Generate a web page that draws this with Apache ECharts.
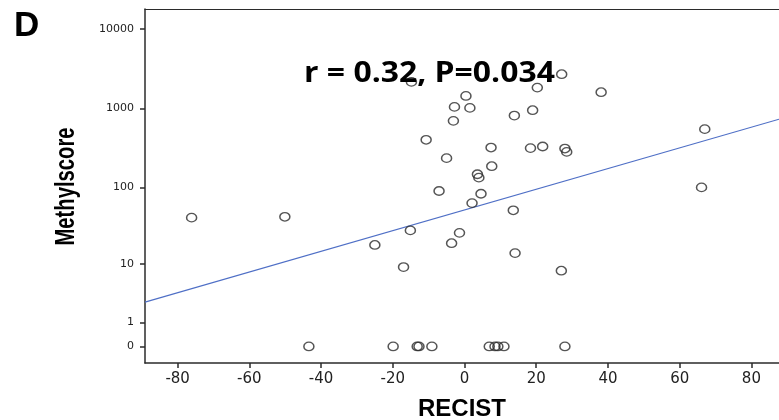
<!DOCTYPE html>
<html>
<head>
<meta charset="utf-8">
<script src="https://cdn.jsdelivr.net/npm/echarts@6/dist/echarts.min.js"></script>
<style>html,body{margin:0;padding:0;background:#fff}#c{width:779px;height:420px}</style>
</head>
<body>
<div id="c"></div>
<script>
// RECIST (%) and Methylscore for each patient
const recist = [
  -43.4, -19.9, -13.2, -12.7, -9.1, 6.9, 8.5, 9.3, 11.0, 28.0,
  -76.1, -50.1, -15.1, -25.0, -3.6, -1.4, -17.0, 14.1, 27.0, 13.6,
  2.1, 4.6, -7.1, 66.1, 3.6, 4.0, 7.6, -5.0, 7.4, 18.4,
  21.8, 28.0, 28.5, -10.7, 67.0, -3.1, 13.9, 19.0, -2.8, 1.5,
  0.4, 38.1, 20.3, -14.8, 27.1
];
const methylscore = [
  0, 0, 0, 0, 0, 0, 0, 0, 0, 0,
  41, 42, 28, 18, 19, 26, 9, 14, 8, 51,
  63, 83, 90, 100, 147, 133, 186, 235, 320, 315,
  330, 311, 282, 401, 547, 696, 811, 948, 1044, 1014,
  1436, 1599, 1828, 2157, 2698
];
// fitted line endpoints
const regLineX = [-89.1, 87.7];
const regLineY = [2.62, 730];
const yTickLabels = [0, 1, 10, 100, 1000, 10000];
const xTickLabels = [-80, -60, -40, -20, 0, 20, 40, 60, 80];
const titleText = 'r = 0.32, P=0.034';

const tf = v => Math.log10(v + 1);
const pts = recist.map((x, i) => [x, tf(methylscore[i])]);
const line = regLineX.map((x, i) => [x, tf(regLineY[i])]);
const yTicks = yTickLabels.map(tf);

const chart = echarts.init(document.getElementById('c'), null, {renderer: 'canvas'});
const axisCol = '#2b2b2b';
chart.setOption({
  animation: false,
  backgroundColor: '#fff',
  grid: {left: 145, right: 0, top: 9, bottom: 57},
  xAxis: [{
    type: 'value', min: -89.1, max: 87.7,
    axisLine: {show: true, onZero: false, lineStyle: {color: axisCol, width: 1.5}},
    axisTick: {show: true, customValues: xTickLabels, length: 5, lineStyle: {color: axisCol, width: 1.5}},
    axisLabel: {customValues: xTickLabels, margin: 9, color: '#222', fontFamily: 'DejaVu Sans', fontSize: 15},
    splitLine: {show: false}
  }, {
    type: 'value', position: 'top', min: -89.1, max: 87.7,
    axisLine: {show: true, onZero: false, lineStyle: {color: axisCol, width: 1.2}},
    axisTick: {show: false}, axisLabel: {show: false}, splitLine: {show: false}
  }],
  yAxis: {
    type: 'value', min: -0.209, max: 4.253,
    axisLine: {show: true, onZero: false, lineStyle: {color: axisCol, width: 1.5}},
    axisTick: {show: true, customValues: yTicks, length: 5, lineStyle: {color: axisCol, width: 1.5}},
    axisLabel: {customValues: yTicks, margin: 11, color: '#222', fontFamily: 'DejaVu Sans', fontSize: 11,
      formatter: v => String(Math.round(Math.pow(10, v) - 1))},
    splitLine: {show: false}
  },
  series: [{
    type: 'line', data: line, symbol: 'none', silent: true,
    lineStyle: {color: '#4f6fc6', width: 1.2}, z: 1
  }, {
    type: 'scatter', data: pts, symbol: 'circle', symbolSize: [10, 8.5],
    itemStyle: {color: 'rgba(0,0,0,0)', borderColor: '#2a2a2a', borderWidth: 1.4}, z: 2
  }],
  graphic: [
    {type: 'text', left: 14, top: 9, style: {text: 'D', font: 'bold 35px "Liberation Sans", Arial', fill: '#000'}},
    {type: 'text', x: 429.5, y: 73.5, scaleX: 1.1, style: {text: titleText, font: 'bold 29px "Open Sans"', fill: '#000', align: 'center', verticalAlign: 'middle'}, z: 10},
    {type: 'text', x: 67, y: 186.5, rotation: Math.PI / 2, scaleX: 0.75, style: {text: 'Methylscore', font: 'bold 27px "Liberation Sans", Arial', fill: '#000', align: 'center', verticalAlign: 'middle'}},
    {type: 'text', x: 462, y: 409, style: {text: 'RECIST', font: 'bold 24px "Liberation Sans", Arial', fill: '#000', align: 'center', verticalAlign: 'middle'}}
  ]
});
</script>
</body>
</html>
